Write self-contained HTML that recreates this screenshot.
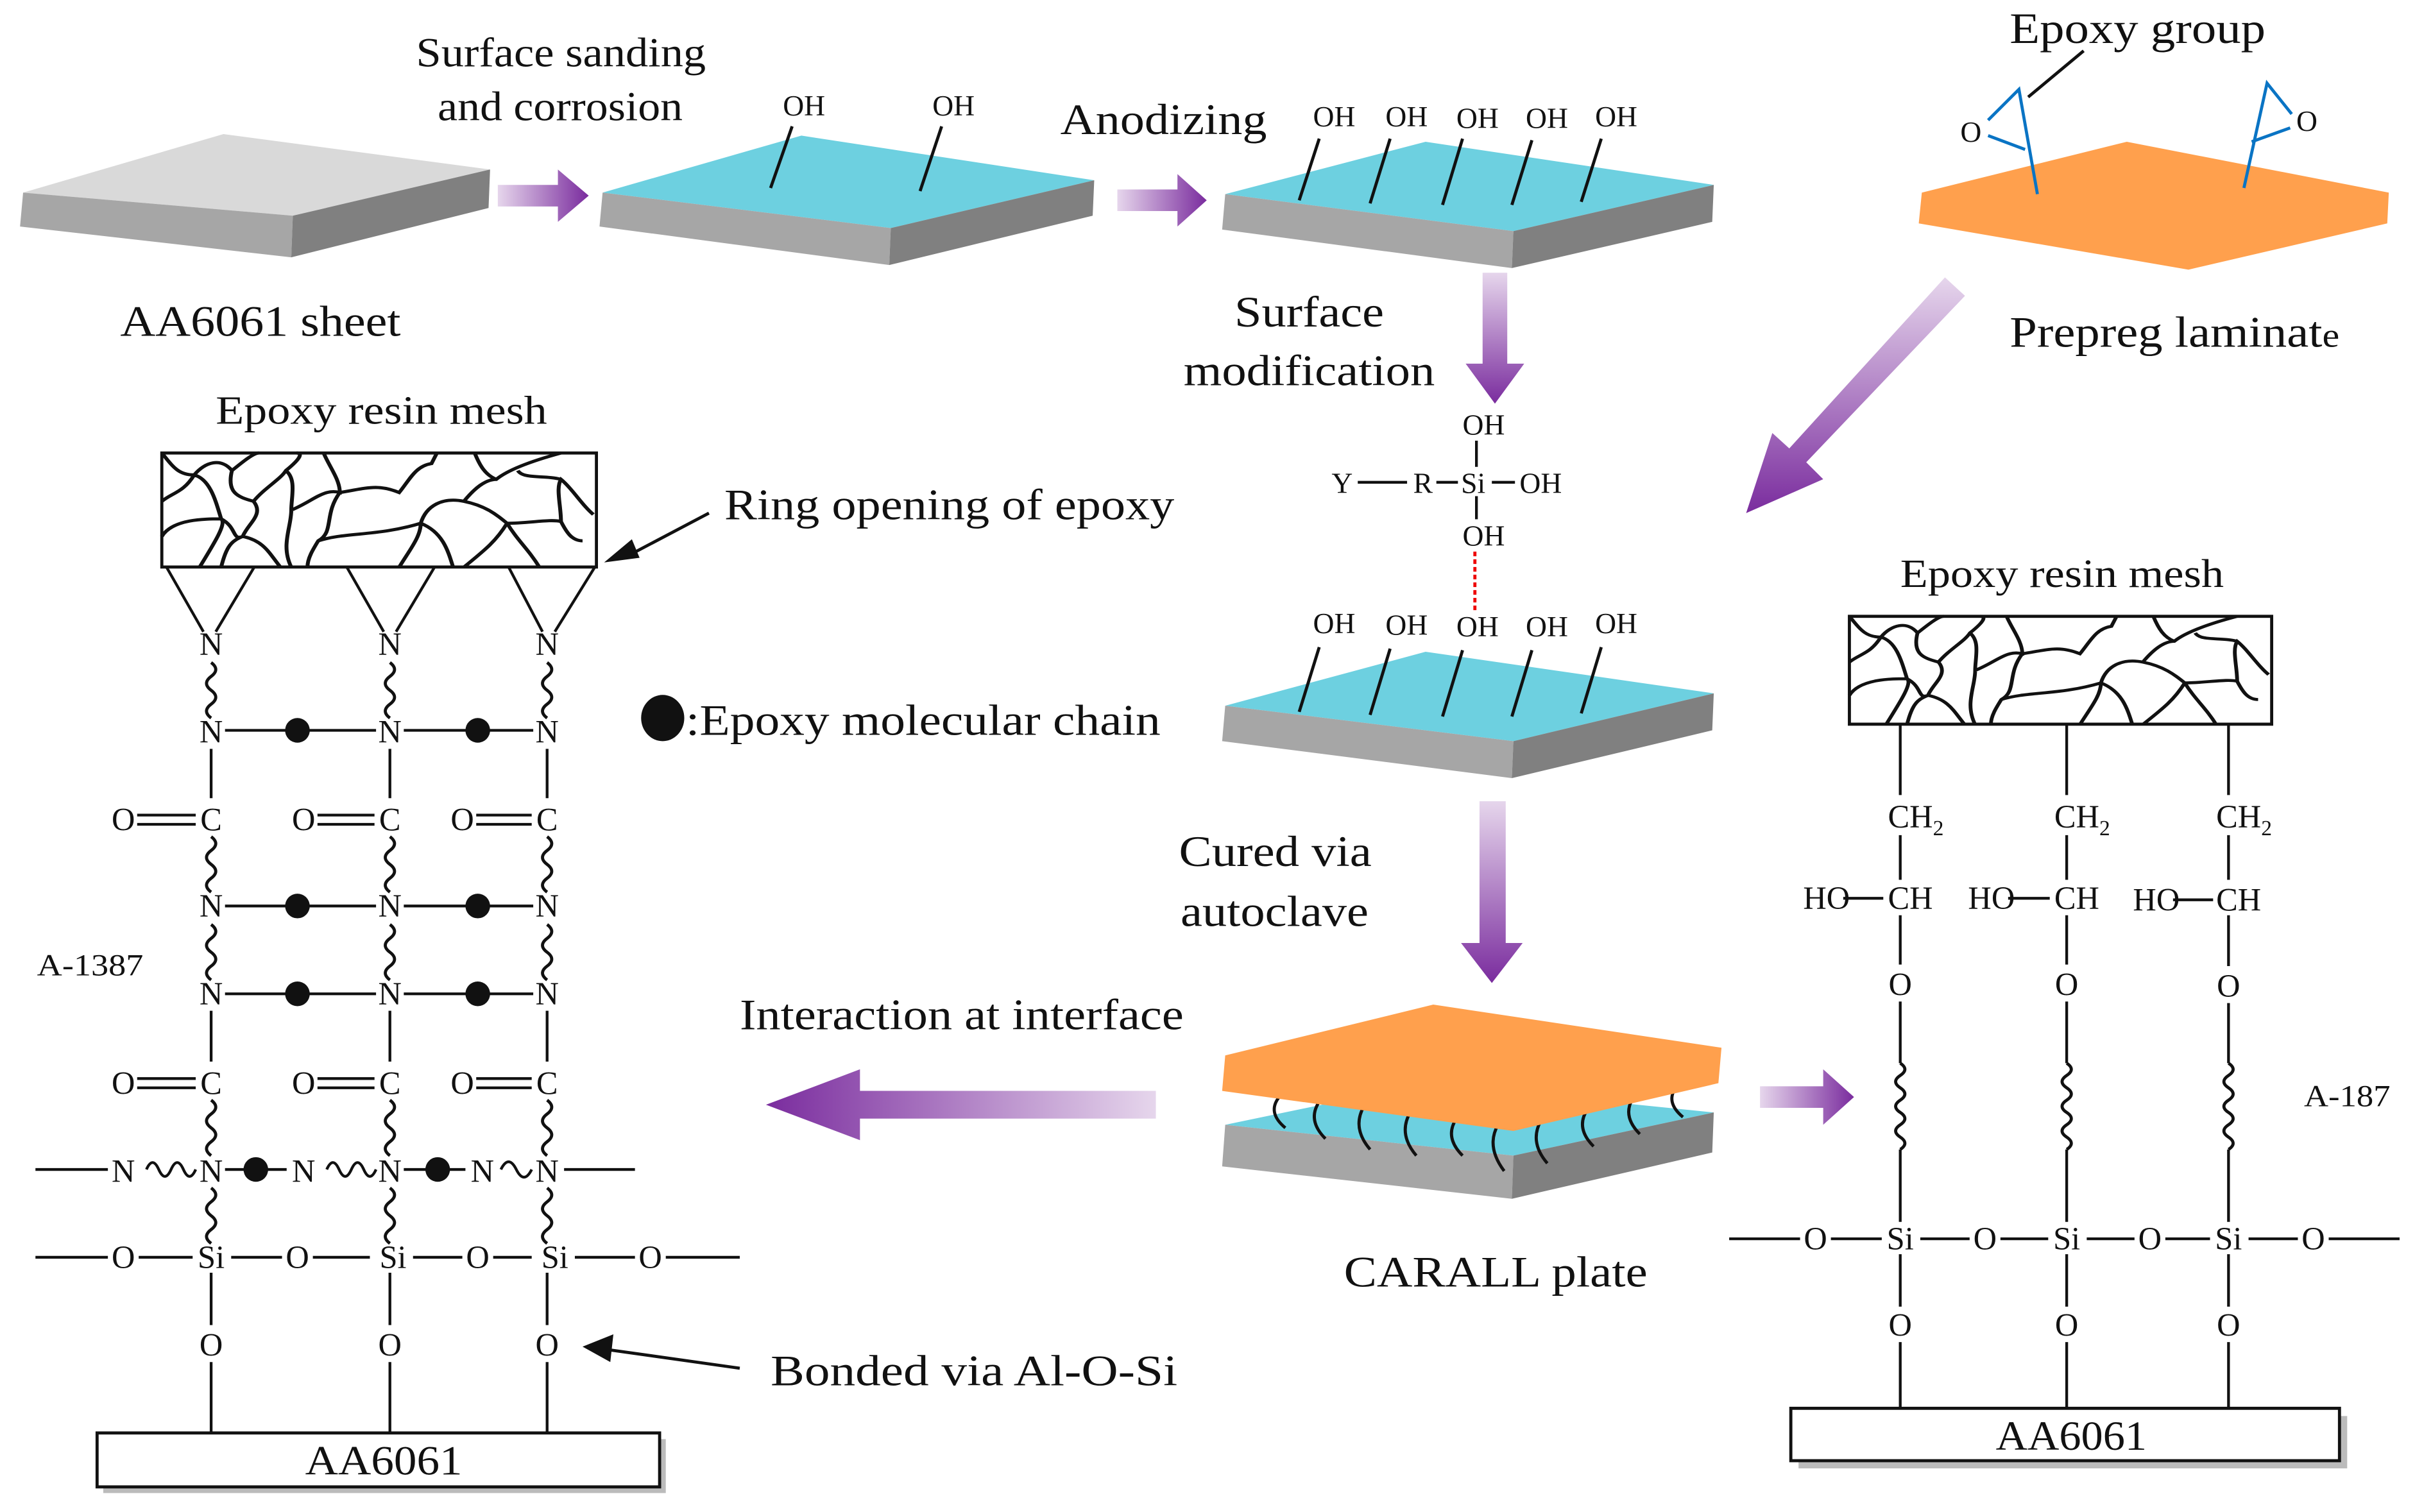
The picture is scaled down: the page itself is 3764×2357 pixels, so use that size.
<!DOCTYPE html>
<html><head><meta charset="utf-8"><style>
html,body{margin:0;padding:0;background:#fff}
svg{display:block}
text{font-family:"Liberation Serif",serif;fill:#111}
</style></head><body>
<svg width="3764" height="2357" viewBox="0 0 1567 981.3" preserveAspectRatio="none" xmlns="http://www.w3.org/2000/svg">
<defs>
<linearGradient id="gh" x1="0" x2="1" y1="0" y2="0"><stop offset="0" stop-color="#e6d6ec"/><stop offset="1" stop-color="#7a2c9e"/></linearGradient>
<linearGradient id="ghl" x1="1" x2="0" y1="0" y2="0"><stop offset="0" stop-color="#e6d6ec"/><stop offset="1" stop-color="#7a2c9e"/></linearGradient>
<linearGradient id="gv" x1="0" x2="0" y1="0" y2="1"><stop offset="0" stop-color="#e6d6ec"/><stop offset="1" stop-color="#7a2c9e"/></linearGradient>
<path id="wv" d="M0 0 q6 4.5 0 9 q-6 4.5 0 9 q6 4.5 0 9 q-6 4.5 0 9" fill="none" stroke="#111" stroke-width="2"/>
<path id="wl" d="M0 0 q6 4 0 8 q-6 4 0 8 q6 4 0 8 q-6 4 0 8 q6 4 0 8 q-6 4 0 8 q6 4 0 8" fill="none" stroke="#111" stroke-width="2"/>
<path id="mesh" d="M0 0 C10 15 15 25 30 25 C40 10 55 5 65 20 C75 10 85 0 90 0 M30 25 C20 45 10 45 0 55 M65 20 C60 45 70 50 85 55 C95 70 80 80 75 95 C65 100 60 105 55 130 M30 25 C45 30 50 55 55 75 C40 75 10 75 0 95 M55 75 C60 80 50 100 35 130 M55 75 C70 85 65 100 75 95 C95 100 100 115 110 130 M85 55 C95 40 110 30 115 20 C130 5 130 0 125 0 M115 20 C125 30 120 50 120 65 C140 55 150 40 165 45 C165 30 155 15 150 0 M120 65 C120 85 110 105 120 130 M165 45 C190 40 200 35 220 45 C230 30 235 15 250 12 C255 0 255 0 255 0 M165 45 C150 70 160 90 145 100 C140 110 135 120 135 130 M145 100 C170 90 200 95 240 80 C245 60 260 50 280 55 C290 40 300 30 310 30 C320 20 340 10 370 0 M240 80 C240 95 230 110 220 130 M240 80 C260 90 265 110 270 130 M280 55 C300 60 310 70 320 80 C340 80 360 75 370 78 M320 80 C310 100 300 110 280 130 M320 80 C330 100 340 110 350 130 M370 78 C375 90 380 100 390 100 M370 78 C370 60 365 40 370 30 C380 40 390 60 400 70 M310 30 C300 25 295 15 290 0 M370 30 C355 25 335 30 330 20" fill="none" stroke="#111" stroke-width="3.6"/>
</defs>

<!-- Plate 1 gray -->
<polygon points="15,125 145,87 318,110 190,140" fill="#d9d9d9"/>
<polygon points="15,125 190,140 189,167 13,147" fill="#a6a6a6"/>
<polygon points="190,140 318,110 317,135 189,167" fill="#808080"/>
<text x="78" y="218" font-size="28" textLength="182" lengthAdjust="spacingAndGlyphs">AA6061 sheet</text>

<!-- Arrow 1 -->
<polygon points="323,120 362,120 362,110 382,127 362,144 362,134 323,134" fill="url(#gh)"/>
<text x="270" y="43" font-size="27" textLength="188" lengthAdjust="spacingAndGlyphs">Surface sanding</text>
<text x="284" y="78" font-size="27" textLength="159" lengthAdjust="spacingAndGlyphs">and corrosion</text>

<!-- Plate 2 -->
<polygon points="391,125 520,88 710,117 578,148" fill="#6dd0e0"/>
<polygon points="391,125 578,148 577,172 389,147" fill="#a6a6a6"/>
<polygon points="578,148 710,117 709,140 577,172" fill="#808080"/>
<g stroke="#111" stroke-width="2"><line x1="500" y1="122" x2="514" y2="82"/><line x1="597" y1="124" x2="611" y2="82"/></g>
<text x="508" y="75" font-size="19">OH</text><text x="605" y="75" font-size="19">OH</text>

<!-- Arrow 2 -->
<polygon points="725,123 764,123 764,113 783,130 764,147 764,137 725,137" fill="url(#gh)"/>
<text x="688" y="87" font-size="28" textLength="134" lengthAdjust="spacingAndGlyphs">Anodizing</text>

<!-- Plate 3 -->
<polygon points="795,126 925,92 1112,120 982,150" fill="#6dd0e0"/>
<polygon points="795,126 982,150 981,174 793,149" fill="#a6a6a6"/>
<polygon points="982,150 1112,120 1111,144 981,174" fill="#808080"/>
<g stroke="#111" stroke-width="2">
<line x1="843" y1="130" x2="856" y2="90"/><line x1="889" y1="132" x2="902" y2="90"/><line x1="936" y1="133" x2="949" y2="90"/><line x1="981" y1="133" x2="994" y2="91"/><line x1="1026" y1="131" x2="1039" y2="90"/>
</g>
<g font-size="19"><text x="852" y="82">OH</text><text x="899" y="82">OH</text><text x="945" y="83">OH</text><text x="990" y="83">OH</text><text x="1035" y="82">OH</text></g>

<!-- Prepreg -->
<polygon points="1247,125 1380,92 1550,125 1549,145 1420,175 1245,145" fill="#ffa04d"/>
<g stroke="#0a74c4" stroke-width="2" fill="none">
<polyline points="1290,78 1310,58 1322,126"/><line x1="1290" y1="88" x2="1314" y2="97"/>
<polyline points="1487,74 1471,54 1456,122"/><line x1="1486" y1="83" x2="1461" y2="92"/>
</g>
<text x="1272" y="92" font-size="19">O</text><text x="1490" y="85" font-size="19">O</text>
<line x1="1352" y1="33" x2="1316" y2="63" stroke="#111" stroke-width="2"/>
<text x="1304" y="28" font-size="28" textLength="166" lengthAdjust="spacingAndGlyphs">Epoxy group</text>
<text x="1304" y="225" font-size="28" textLength="214" lengthAdjust="spacingAndGlyphs">Prepreg laminat<tspan font-size="22">e</tspan></text>

<!-- diagonal arrow -->
<polygon points="1262,180 1275,192 1172,300 1183,311 1133,333 1150,281 1161,291" fill="url(#gv)"/>

<!-- down arrow 1 -->
<polygon points="962,177 978,177 978,236 989,236 970,262 951,236 962,236" fill="url(#gv)"/>
<text x="801" y="212" font-size="28" textLength="97" lengthAdjust="spacingAndGlyphs">Surface</text>
<text x="768" y="250" font-size="28" textLength="163" lengthAdjust="spacingAndGlyphs">modification</text>

<!-- silane -->
<g font-size="19">
<text x="949" y="282">OH</text>
<text x="864" y="320">Y</text><text x="917" y="320">R</text><text x="948" y="320">Si</text><text x="986" y="320">OH</text>
<text x="949" y="354">OH</text>
</g>
<g stroke="#111" stroke-width="1.8">
<line x1="958" y1="286" x2="958" y2="303"/><line x1="881" y1="313" x2="913" y2="313"/><line x1="932" y1="313" x2="946" y2="313"/><line x1="968" y1="313" x2="983" y2="313"/><line x1="958" y1="322" x2="958" y2="337"/>
</g>
<line x1="957" y1="358" x2="957" y2="398" stroke="#e00" stroke-width="2" stroke-dasharray="3,2"/>

<!-- Plate 4 -->
<polygon points="795,458 925,423 1112,450 982,481" fill="#6dd0e0"/>
<polygon points="795,458 982,481 981,505 793,481" fill="#a6a6a6"/>
<polygon points="982,481 1112,450 1111,474 981,505" fill="#808080"/>
<g stroke="#111" stroke-width="2">
<line x1="843" y1="462" x2="856" y2="420"/><line x1="889" y1="464" x2="902" y2="421"/><line x1="936" y1="465" x2="949" y2="422"/><line x1="981" y1="465" x2="994" y2="422"/><line x1="1026" y1="463" x2="1039" y2="420"/>
</g>
<g font-size="19"><text x="852" y="411">OH</text><text x="899" y="412">OH</text><text x="945" y="413">OH</text><text x="990" y="413">OH</text><text x="1035" y="411">OH</text></g>

<!-- down arrow 2 -->
<polygon points="960,520 977,520 977,612 988,612 968,638 948,612 960,612" fill="url(#gv)"/>
<text x="765" y="562" font-size="28" textLength="125" lengthAdjust="spacingAndGlyphs">Cured via</text>
<text x="766" y="601" font-size="28" textLength="122" lengthAdjust="spacingAndGlyphs">autoclave</text>

<!-- CARALL -->
<polygon points="795,730 925,703 1112,722 982,750" fill="#6dd0e0"/>
<polygon points="795,730 982,750 981,778 793,757" fill="#a6a6a6"/>
<polygon points="982,750 1112,722 1111,748 981,778" fill="#808080"/>
<g stroke="#111" stroke-width="2" fill="none">
<path d="M830 712 q-8 10 4 20"/><path d="M856 715 q-8 12 4 24"/><path d="M885 718 q-8 14 4 28"/><path d="M915 722 q-8 14 4 28"/><path d="M945 726 q-8 12 4 24"/><path d="M972 730 q-8 14 4 30"/><path d="M1000 727 q-8 14 4 28"/><path d="M1030 720 q-8 12 4 24"/><path d="M1060 712 q-8 12 4 24"/><path d="M1088 705 q-8 10 4 20"/>
</g>
<polygon points="795,685 930,652 1117,680 1115,703 982,734 793,708" fill="#ffa04d"/>
<text x="872" y="835" font-size="28" textLength="197" lengthAdjust="spacingAndGlyphs">CARALL plate</text>

<!-- left big arrow -->
<polygon points="750,708 558,708 558,694 497,717 558,740 558,726 750,726" fill="url(#ghl)"/>
<text x="480" y="668" font-size="28" textLength="288" lengthAdjust="spacingAndGlyphs">Interaction at interface</text>

<!-- right small arrow -->
<polygon points="1142,705 1183,705 1183,694 1203,712 1183,730 1183,719 1142,719" fill="url(#gh)"/>

<!-- LEFT STRUCTURE -->
<text x="140" y="275" font-size="26" textLength="215" lengthAdjust="spacingAndGlyphs">Epoxy resin mesh</text>
<rect x="105" y="294" width="282" height="74" fill="#fff" stroke="#111" stroke-width="2"/>
<g transform="translate(105,294) scale(0.7,0.57)"><use href="#mesh"/></g>
<g stroke="#111" stroke-width="1.8">
<line x1="108" y1="368" x2="132" y2="410"/><line x1="165" y1="368" x2="140" y2="410"/>
<line x1="225" y1="368" x2="249" y2="410"/><line x1="282" y1="368" x2="257" y2="410"/>
<line x1="330" y1="368" x2="352" y2="410"/><line x1="386" y1="368" x2="360" y2="410"/>
</g>
<line x1="405" y1="362" x2="460" y2="333" stroke="#111" stroke-width="2"/>
<polygon points="392,365 410,350 415,362" fill="#111"/>
<text x="470" y="337" font-size="28" textLength="292" lengthAdjust="spacingAndGlyphs">Ring opening of epoxy</text>

<g font-size="21" text-anchor="middle">
<text x="137" y="425">N</text><text x="253" y="425">N</text><text x="355" y="425">N</text>
<text x="137" y="482">N</text><text x="253" y="482">N</text><text x="355" y="482">N</text>
<text x="80" y="539">O</text><text x="137" y="539">C</text><text x="197" y="539">O</text><text x="253" y="539">C</text><text x="300" y="539">O</text><text x="355" y="539">C</text>
<text x="137" y="595">N</text><text x="253" y="595">N</text><text x="355" y="595">N</text>
<text x="137" y="652">N</text><text x="253" y="652">N</text><text x="355" y="652">N</text>
<text x="80" y="710">O</text><text x="137" y="710">C</text><text x="197" y="710">O</text><text x="253" y="710">C</text><text x="300" y="710">O</text><text x="355" y="710">C</text>
<text x="80" y="767">N</text><text x="137" y="767">N</text><text x="197" y="767">N</text><text x="253" y="767">N</text><text x="313" y="767">N</text><text x="355" y="767">N</text>
<text x="80" y="823">O</text><text x="137" y="823">Si</text><text x="193" y="823">O</text><text x="255" y="823">Si</text><text x="310" y="823">O</text><text x="360" y="823">Si</text><text x="422" y="823">O</text>
<text x="137" y="880">O</text><text x="253" y="880">O</text><text x="355" y="880">O</text>
</g>
<text x="24" y="633" font-size="20" textLength="69" lengthAdjust="spacingAndGlyphs">A-1387</text>
<g>
<use href="#wv" x="137" y="430"/><use href="#wv" x="253" y="430"/><use href="#wv" x="355" y="430"/>
<use href="#wv" x="137" y="543"/><use href="#wv" x="253" y="543"/><use href="#wv" x="355" y="543"/>
<use href="#wv" x="137" y="600"/><use href="#wv" x="253" y="600"/><use href="#wv" x="355" y="600"/>
<use href="#wv" x="137" y="714"/><use href="#wv" x="253" y="714"/><use href="#wv" x="355" y="714"/>
<use href="#wv" x="137" y="771"/><use href="#wv" x="253" y="771"/><use href="#wv" x="355" y="771"/>
</g>
<g stroke="#111" stroke-width="1.8" fill="none">
<line x1="146" y1="474" x2="244" y2="474"/><line x1="262" y1="474" x2="346" y2="474"/>
<line x1="146" y1="588" x2="244" y2="588"/><line x1="262" y1="588" x2="346" y2="588"/>
<line x1="146" y1="645" x2="244" y2="645"/><line x1="262" y1="645" x2="346" y2="645"/>
<line x1="137" y1="486" x2="137" y2="518"/><line x1="253" y1="486" x2="253" y2="518"/><line x1="355" y1="486" x2="355" y2="518"/>
<line x1="137" y1="656" x2="137" y2="689"/><line x1="253" y1="656" x2="253" y2="689"/><line x1="355" y1="656" x2="355" y2="689"/>
<line x1="89" y1="529" x2="127" y2="529"/><line x1="89" y1="535" x2="127" y2="535"/>
<line x1="206" y1="529" x2="243" y2="529"/><line x1="206" y1="535" x2="243" y2="535"/>
<line x1="309" y1="529" x2="345" y2="529"/><line x1="309" y1="535" x2="345" y2="535"/>
<line x1="89" y1="700" x2="127" y2="700"/><line x1="89" y1="706" x2="127" y2="706"/>
<line x1="206" y1="700" x2="243" y2="700"/><line x1="206" y1="706" x2="243" y2="706"/>
<line x1="309" y1="700" x2="345" y2="700"/><line x1="309" y1="706" x2="345" y2="706"/>
<line x1="23" y1="759" x2="70" y2="759"/><line x1="146" y1="759" x2="186" y2="759"/><line x1="262" y1="759" x2="302" y2="759"/><line x1="366" y1="759" x2="412" y2="759"/>
<path d="M95 759 q4 -9 8 0 q4 9 8 0 q4 -9 8 0 q4 9 8 0"/>
<path d="M212 759 q4 -9 8 0 q4 9 8 0 q4 -9 8 0 q4 9 8 0"/>
<path d="M325 759 q5 -10 10 0 q5 10 10 0"/>
<line x1="23" y1="816" x2="70" y2="816"/><line x1="90" y1="816" x2="125" y2="816"/><line x1="150" y1="816" x2="183" y2="816"/><line x1="203" y1="816" x2="240" y2="816"/><line x1="268" y1="816" x2="300" y2="816"/><line x1="320" y1="816" x2="345" y2="816"/><line x1="373" y1="816" x2="412" y2="816"/><line x1="432" y1="816" x2="480" y2="816"/>
<line x1="137" y1="826" x2="137" y2="860"/><line x1="253" y1="826" x2="253" y2="860"/><line x1="355" y1="826" x2="355" y2="860"/>
<line x1="137" y1="884" x2="137" y2="930"/><line x1="253" y1="884" x2="253" y2="930"/><line x1="355" y1="884" x2="355" y2="930"/>
</g>
<g fill="#111">
<circle cx="193" cy="474" r="8"/><circle cx="310" cy="474" r="8"/>
<circle cx="193" cy="588" r="8"/><circle cx="310" cy="588" r="8"/>
<circle cx="193" cy="645" r="8"/><circle cx="310" cy="645" r="8"/>
<circle cx="166" cy="759" r="8"/><circle cx="284" cy="759" r="8"/>
<ellipse cx="430" cy="466" rx="14" ry="15"/>
</g>
<text x="445" y="477" font-size="28" textLength="308" lengthAdjust="spacingAndGlyphs">:Epoxy molecular chain</text>
<line x1="480" y1="888" x2="395" y2="876" stroke="#111" stroke-width="2"/>
<polygon points="378,874 398,866 396,884" fill="#111"/>
<text x="500" y="899" font-size="28" textLength="264" lengthAdjust="spacingAndGlyphs">Bonded via  Al-O-Si</text>
<rect x="67" y="934" width="365" height="35" fill="#bbb"/>
<rect x="63" y="930" width="365" height="35" fill="#fff" stroke="#111" stroke-width="2"/>
<text x="198" y="957" font-size="27" textLength="102" lengthAdjust="spacingAndGlyphs">AA6061</text>

<!-- RIGHT STRUCTURE -->
<text x="1233" y="381" font-size="26" textLength="210" lengthAdjust="spacingAndGlyphs">Epoxy resin mesh</text>
<rect x="1200" y="400" width="274" height="70" fill="#fff" stroke="#111" stroke-width="2"/>
<g transform="translate(1200,400) scale(0.68,0.54)"><use href="#mesh"/></g>
<g font-size="21">
<text x="1225" y="537">CH<tspan font-size="14" dy="5">2</tspan></text>
<text x="1333" y="537">CH<tspan font-size="14" dy="5">2</tspan></text>
<text x="1438" y="537">CH<tspan font-size="14" dy="5">2</tspan></text>
<text x="1170" y="590">HO</text><text x="1225" y="590">CH</text>
<text x="1277" y="590">HO</text><text x="1333" y="590">CH</text>
<text x="1384" y="591">HO</text><text x="1438" y="591">CH</text>
</g>
<g font-size="21" text-anchor="middle">
<text x="1233" y="646">O</text><text x="1341" y="646">O</text><text x="1446" y="647">O</text>
<text x="1178" y="811">O</text><text x="1233" y="811">Si</text><text x="1288" y="811">O</text><text x="1341" y="811">Si</text><text x="1395" y="811">O</text><text x="1446" y="811">Si</text><text x="1501" y="811">O</text>
<text x="1233" y="867">O</text><text x="1341" y="867">O</text><text x="1446" y="867">O</text>
</g>
<text x="1495" y="718" font-size="20" textLength="56" lengthAdjust="spacingAndGlyphs">A-187</text>
<g stroke="#111" stroke-width="1.8" fill="none">
<line x1="1233" y1="470" x2="1233" y2="516"/><line x1="1341" y1="470" x2="1341" y2="516"/><line x1="1446" y1="470" x2="1446" y2="516"/>
<line x1="1233" y1="542" x2="1233" y2="571"/><line x1="1341" y1="542" x2="1341" y2="571"/><line x1="1446" y1="542" x2="1446" y2="571"/>
<line x1="1196" y1="583" x2="1222" y2="583"/><line x1="1303" y1="583" x2="1330" y2="583"/><line x1="1410" y1="584" x2="1436" y2="584"/>
<line x1="1233" y1="594" x2="1233" y2="626"/><line x1="1341" y1="594" x2="1341" y2="626"/><line x1="1446" y1="594" x2="1446" y2="627"/>
<line x1="1233" y1="650" x2="1233" y2="690"/><line x1="1341" y1="650" x2="1341" y2="690"/><line x1="1446" y1="651" x2="1446" y2="690"/>
<line x1="1233" y1="746" x2="1233" y2="793"/><line x1="1341" y1="746" x2="1341" y2="793"/><line x1="1446" y1="746" x2="1446" y2="793"/>
<line x1="1122" y1="804" x2="1168" y2="804"/><line x1="1188" y1="804" x2="1221" y2="804"/><line x1="1246" y1="804" x2="1278" y2="804"/><line x1="1298" y1="804" x2="1329" y2="804"/><line x1="1354" y1="804" x2="1385" y2="804"/><line x1="1405" y1="804" x2="1434" y2="804"/><line x1="1459" y1="804" x2="1491" y2="804"/><line x1="1511" y1="804" x2="1557" y2="804"/>
<line x1="1233" y1="814" x2="1233" y2="848"/><line x1="1341" y1="814" x2="1341" y2="848"/><line x1="1446" y1="814" x2="1446" y2="848"/>
<line x1="1233" y1="871" x2="1233" y2="914"/><line x1="1341" y1="871" x2="1341" y2="914"/><line x1="1446" y1="871" x2="1446" y2="914"/>
</g>
<use href="#wl" x="1233" y="690"/><use href="#wl" x="1341" y="690"/><use href="#wl" x="1446" y="690"/>
<rect x="1167" y="919" width="356" height="34" fill="#bbb"/>
<rect x="1162" y="914" width="356" height="34" fill="#fff" stroke="#111" stroke-width="2"/>
<text x="1295" y="941" font-size="27" textLength="98" lengthAdjust="spacingAndGlyphs">AA6061</text>
</svg>
</body></html>
